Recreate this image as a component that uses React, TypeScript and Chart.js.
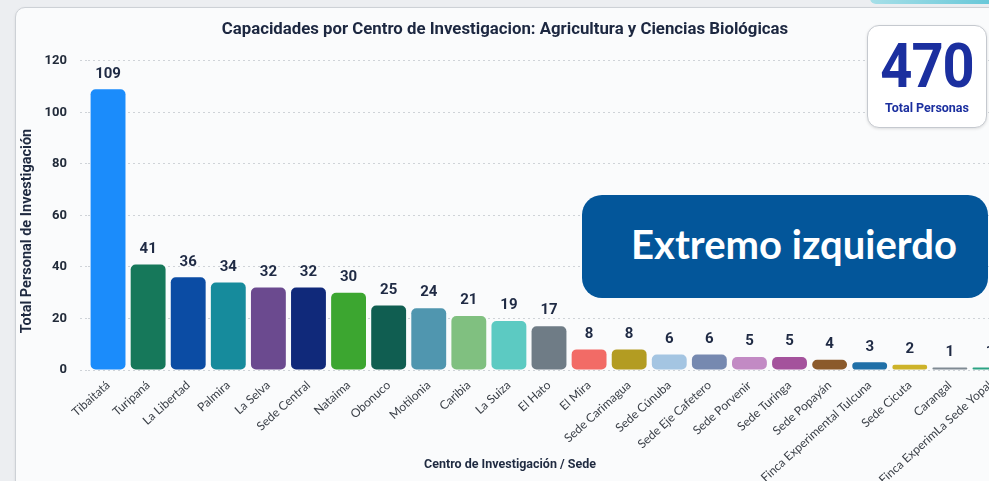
import React, { useEffect, useRef } from "react";
import { Chart, registerables } from "chart.js";

Chart.register(...registerables);

const chartTitle = "Capacidades por Centro de Investigacion: Agricultura y Ciencias Biológicas";
const xAxisTitle = "Centro de Investigación / Sede";
const yAxisTitle = "Total Personal de Investigación";

const categories = [
  "Tibaitatá",
  "Turipaná",
  "La Libertad",
  "Palmira",
  "La Selva",
  "Sede Central",
  "Nataima",
  "Obonuco",
  "Motilonia",
  "Caribia",
  "La Suiza",
  "El Hato",
  "El Mira",
  "Sede Carimagua",
  "Sede Cúnuba",
  "Sede Eje Cafetero",
  "Sede Porvenir",
  "Sede Turinga",
  "Sede Popayán",
  "Finca Experimental Tulcuna",
  "Sede Cicuta",
  "Carangal",
  "Finca ExperimLa Sede Yopal",
];

const values = [109, 41, 36, 34, 32, 32, 30, 25, 24, 21, 19, 17, 8, 8, 6, 6, 5, 5, 4, 3, 2, 1, 1];

const barColors = [
  "#1b8cfb",
  "#16785a",
  "#0b4ca4",
  "#168b9c",
  "#6b4a8f",
  "#10297a",
  "#3ca630",
  "#105e51",
  "#5096af",
  "#80c080",
  "#5ccac2",
  "#6f7c86",
  "#f26b66",
  "#b39c22",
  "#a4c5e2",
  "#7689b0",
  "#c28ac4",
  "#a4529c",
  "#8b5a2b",
  "#2070a8",
  "#cdb32a",
  "#7f8a93",
  "#2ca384",
];

const yMin = 0;
const yMax = 120;
const yStep = 20;

const totalValue = "470";
const totalLabel = "Total Personas";
const overlayText = "Extremo izquierdo";

const valueLabelPlugin = {
  id: "valueLabels",
  afterDatasetsDraw(chart: any) {
    const { ctx } = chart;
    const meta = chart.getDatasetMeta(0);
    ctx.save();
    ctx.font = "700 15px Roboto";
    ctx.fillStyle = "#1f2a44";
    ctx.textAlign = "center";
    ctx.textBaseline = "bottom";
    meta.data.forEach((bar: any, i: number) => {
      ctx.fillText(String(chart.data.datasets[0].data[i]), bar.x, bar.y - 8);
    });
    ctx.restore();
  },
};

const axisTitlePlugin = {
  id: "axisTitles",
  afterDraw(chart: any) {
    const { ctx } = chart;
    ctx.save();
    ctx.fillStyle = "#1f2a40";
    ctx.textAlign = "center";
    ctx.textBaseline = "middle";
    ctx.font = "700 12.5px Roboto";
    ctx.fillText(xAxisTitle, chart.width / 2 + 5, chart.height - 16);
    ctx.translate(27, chart.chartArea.bottom - 139);
    ctx.rotate(-Math.PI / 2);
    ctx.font = "700 14.5px Roboto";
    ctx.fillText(yAxisTitle, 0, 0);
    ctx.restore();
  },
};

export default function App() {
  const canvasRef = useRef<HTMLCanvasElement | null>(null);

  useEffect(() => {
    const canvas = canvasRef.current;
    if (!canvas) return;
    const chart = new Chart(canvas, {
      type: "bar",
      data: {
        labels: categories,
        datasets: [
          {
            data: values,
            backgroundColor: barColors,
            borderRadius: 5,
            borderSkipped: false,
            categoryPercentage: 1,
            barPercentage: 0.87,
          },
        ],
      },
      plugins: [valueLabelPlugin, axisTitlePlugin],
      options: {
        responsive: false,
        animation: false,
        devicePixelRatio: 1,
        layout: { padding: { left: 0, right: 0, top: 0, bottom: 0 } },
        plugins: {
          legend: { display: false },
          tooltip: { enabled: false },
          title: {
            display: true,
            text: chartTitle,
            color: "#1c2740",
            font: { family: "Roboto", size: 16.8, weight: "bold" },
            padding: { top: 20, bottom: 20.8 },
          },
        },
        scales: {
          x: {
            grid: { display: false },
            border: { display: false },
            ticks: {
              autoSkip: false,
              minRotation: 42,
              maxRotation: 42,
              padding: 0,
              color: "#3b4048",
              font: { family: "Lato", size: 12 },
            },
            afterFit(scale: any) {
              scale.height = 111;
            },
          },
          y: {
            min: yMin,
            max: yMax,
            ticks: {
              stepSize: yStep,
              padding: 13,
              color: "#222b3a",
              font: { family: "Roboto", size: 13, weight: "bold" },
            },
            grid: {
              color: "#cfd3d8",
              lineWidth: 1,
              tickBorderDash: [2, 3],
              tickColor: "#cfd3d8",
              tickLength: 8,
              drawTicks: true,
            },
            border: { display: false, dash: [2, 3] },
            afterFit(scale: any) {
              scale.width = 88;
            },
          },
        },
      },
    } as any);
    return () => chart.destroy();
  }, []);

  return (
    <div
      style={{
        position: "fixed",
        left: 0,
        top: 0,
        width: 989,
        height: 481,
        overflow: "hidden",
        background: "#eceef1",
      }}
    >
      <div
        style={{
          position: "absolute",
          left: 870,
          top: -4,
          width: 140,
          height: 8,
          borderBottomLeftRadius: 6,
          background: "linear-gradient(90deg, #a6dfe8, #5ec4d6)",
        }}
      />
      <div
        style={{
          position: "absolute",
          left: 15,
          top: 7,
          width: 1000,
          height: 500,
          borderRadius: 10,
          border: "1px solid #cdd1d6",
          background: "#fafbfc",
          boxShadow: "0 1px 3px rgba(0,0,0,0.08)",
        }}
      />
      <canvas
        ref={canvasRef}
        width={1010}
        height={481}
        style={{ position: "absolute", left: 0, top: 0, width: 1010, height: 481 }}
      />
      <div
        style={{
          position: "absolute",
          left: 867,
          top: 25,
          width: 118,
          height: 101,
          borderRadius: 12,
          border: "1px solid #c5c9cf",
          background: "#ffffff",
          boxShadow: "0 1px 3px rgba(0,0,0,0.12)",
          textAlign: "center",
          color: "#1b2f9f",
          fontFamily: "Roboto",
          fontWeight: 700,
        }}
      >
        <div style={{ fontSize: 56, lineHeight: "56px", marginTop: 12, letterSpacing: -1, transform: "scaleY(1.08)" }}>
          {totalValue}
        </div>
        <div style={{ fontSize: 12.5, lineHeight: "16px", marginTop: 6 }}>{totalLabel}</div>
      </div>
      <div
        style={{
          position: "absolute",
          left: 582,
          top: 195,
          width: 406,
          height: 103,
          borderRadius: 20,
          background: "#03569a",
          color: "#ffffff",
          fontFamily: "Lato",
          fontWeight: 700,
          fontSize: 40,
          lineHeight: "40px",
          textAlign: "center",
          boxSizing: "border-box",
          paddingTop: 29,
          paddingLeft: 18,
        }}
      >
        {overlayText}
      </div>
    </div>
  );
}
